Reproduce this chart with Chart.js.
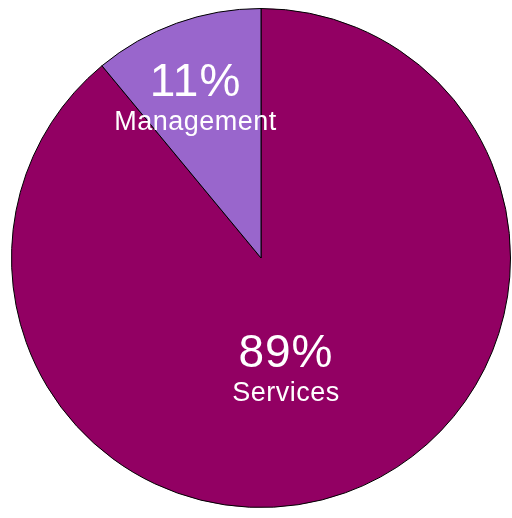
<!DOCTYPE html>
<html>
<head>
<meta charset="utf-8">
<script src="https://cdn.jsdelivr.net/npm/chart.js@4.4.1/dist/chart.umd.min.js"></script>
<style>
    html, body { margin: 0; padding: 0; background: #ffffff; }
    .chart-container { width: 512px; height: 518px; }
</style>
</head>
<body>
<div class="chart-container">
    <canvas id="pieChart"></canvas>
</div>

<script>
    // Chart data
    const categories = ['Services', 'Management'];
    const shares = [89, 11];
    const sliceColors = ['#920063', '#9966cc'];

    // Draws the percentage + category name inside each slice
    const sliceLabels = {
        id: 'sliceLabels',
        afterDatasetsDraw(chart) {
            const ctx = chart.ctx;
            const meta = chart.getDatasetMeta(0);
            // radial position (fraction of radius) and angle nudge (degrees) per slice
            const radialPos = [0.47, 0.68];
            const angleNudge = [7.5, -2.9];
            meta.data.forEach((arc, i) => {
                const mid = (arc.startAngle + arc.endAngle) / 2 + angleNudge[i] * Math.PI / 180;
                const r = arc.outerRadius * radialPos[i];
                const x = arc.x + Math.cos(mid) * r;
                const y = arc.y + Math.sin(mid) * r;
                ctx.save();
                ctx.fillStyle = '#ffffff';
                ctx.textAlign = 'center';
                ctx.textBaseline = 'middle';
                ctx.letterSpacing = '1px';
                ctx.font = '46px "Liberation Sans", Arial, sans-serif';
                ctx.fillText(shares[i] + '%', x, y - 18);
                ctx.letterSpacing = '0.5px';
                ctx.font = '27px "Liberation Sans", Arial, sans-serif';
                ctx.fillText(categories[i], x, y + 21);
                ctx.restore();
            });
        }
    };

    new Chart(document.getElementById('pieChart').getContext('2d'), {
        type: 'pie',
        data: {
            labels: categories,
            datasets: [{
                data: shares,
                backgroundColor: sliceColors,
                borderColor: '#000000',
                borderWidth: 1
            }]
        },
        options: {
            responsive: true,
            maintainAspectRatio: false,
            animation: false,
            layout: { padding: { left: 11, top: 8, right: 1, bottom: 10 } },
            plugins: {
                legend: { display: false },
                tooltip: { enabled: false }
            }
        },
        plugins: [sliceLabels]
    });
</script>
</body>
</html>
